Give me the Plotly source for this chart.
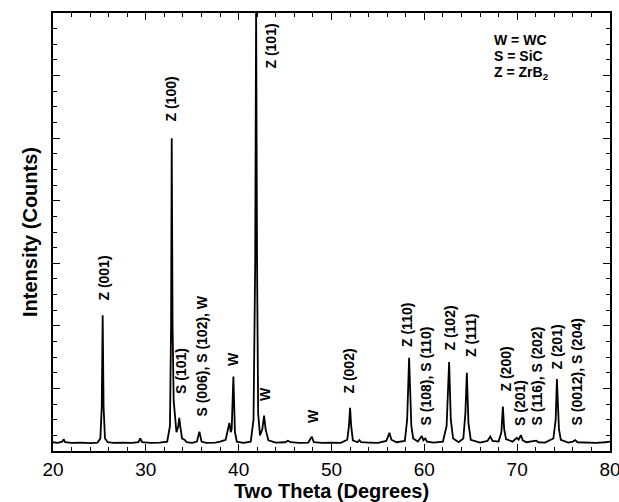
import plotly.graph_objects as go

# ---- data ----
two_theta = [20.0, 20.5, 21.0, 21.15, 21.3, 22.0, 23.0, 24.0, 24.8, 25.1, 25.25, 25.35, 25.45, 25.6, 25.9,
             26.5, 27.5, 28.5, 29.2, 29.4, 29.6, 30.5, 31.5, 32.3, 32.6, 32.72, 32.79, 32.88, 33.0, 33.1,
             33.3, 33.5, 33.6, 33.7, 33.9, 34.2, 34.4, 35.0, 35.5, 35.77, 36.0, 36.5, 37.5, 38.0, 38.3,
             38.6, 38.85, 39.0, 39.15, 39.25, 39.43, 39.6, 39.8, 40.5, 41.3, 41.6, 41.78, 41.88, 41.98, 42.1,
             42.3, 42.55, 42.74, 42.9, 43.2, 44.0, 45.0, 45.3, 45.6, 46.5, 47.5, 47.87, 48.1, 49.0, 50.0,
             51.0, 51.7, 51.88, 52.0, 52.12, 52.3, 52.8, 53.0, 53.2, 54.0, 55.0, 55.9, 56.24, 56.45, 57.0,
             57.9, 58.15, 58.36, 58.5, 58.6, 58.8, 59.3, 59.73, 59.9, 60.1, 60.3, 61.0, 62.0, 62.4, 62.67,
             62.85, 63.1, 63.7, 64.2, 64.42, 64.58, 64.75, 65.0, 66.0, 66.8, 67.1, 67.35, 68.0, 68.3, 68.46,
             68.6, 68.8, 69.5, 69.97, 70.15, 70.4, 70.6, 71.0, 71.8, 72.05, 72.3, 73.0, 73.9, 74.15, 74.28,
             74.4, 74.5, 74.7, 75.5, 76.0, 76.25, 76.5, 77.5, 78.5, 79.5, 80.0]
intensity = [140, 130, 150, 190, 140, 130, 135, 125, 135, 200, 700, 2170, 700, 200, 140,
             130, 135, 130, 140, 200, 140, 130, 135, 150, 400, 2000, 5000, 2000, 800, 600,
             300, 400, 530, 400, 200, 175, 140, 130, 150, 310, 150, 130, 135, 150, 170,
             180, 350, 450, 300, 350, 1190, 300, 150, 130, 150, 500, 3000, 7100, 3000, 600,
             250, 350, 565, 350, 170, 135, 140, 165, 140, 130, 135, 230, 140, 130, 135,
             130, 180, 400, 690, 400, 170, 140, 175, 140, 135, 130, 160, 290, 180, 140,
             160, 500, 1490, 700, 400, 200, 150, 240, 170, 200, 150, 135, 150, 400, 1420,
             500, 200, 140, 200, 600, 1250, 450, 180, 135, 160, 230, 160, 150, 300, 710,
             350, 190, 150, 210, 180, 255, 170, 140, 150, 165, 140, 135, 200, 500, 1150,
             600, 350, 180, 135, 150, 175, 140, 135, 130, 140, 150]

peak_labels = ["Z (001)", "Z (100)", "Z (101)", "S (101)", "S (006), S (102), W", "W", "W", "W",
               "Z (002)", "Z (110)", "S (108), S (110)", "Z (102)", "Z (111)", "Z (200)", "S (201)",
               "S (116), S (202)", "Z (201)", "S (0012), S (204)"]
label_x = [25.39, 32.71, 43.38, 33.79, 36.05, 39.39, 42.84, 48.0,
           51.78, 58.13, 60.18, 62.66, 65.03, 68.69, 70.31,
           72.14, 74.29, 76.45]
label_y = [2381, 5258, 6089, 895, 527, 1342, 783, 431,
           895, 1646, 384, 1582, 1486, 927, 384,
           384, 1294, 384]

key_lines = ["W = WC", "S = SiC", "Z = ZrB<sub>2</sub>"]
key_y = [6569, 6305, 6041]

x_title = "Two Theta (Degrees)"
y_title = "Intensity (Counts)"

FONT = "Liberation Sans, Arial, Helvetica, sans-serif"

fig = go.Figure()
fig.add_trace(go.Scatter(x=two_theta, y=intensity, mode="lines",
                         line=dict(color="black", width=1.8), showlegend=False))

for txt, xv, yv in zip(peak_labels, label_x, label_y):
    fig.add_annotation(x=xv, y=yv, text=txt, textangle=-90, showarrow=False,
                       xanchor="center", yanchor="bottom",
                       font=dict(family=FONT, size=14, color="black", weight="bold"),
                       borderpad=0)

for txt, yv in zip(key_lines, key_y):
    fig.add_annotation(x=67.4, y=yv, text=txt, showarrow=False, xanchor="left", yanchor="middle",
                       font=dict(family=FONT, size=14, color="black", weight="bold"), borderpad=0)

axis_common = dict(showline=True, linecolor="black", linewidth=1.5, mirror="allticks",
                   ticks="inside", tickcolor="black", tickwidth=1.3, showgrid=False, zeroline=False)

fig.update_xaxes(range=[20, 80], dtick=10, tick0=20, ticklen=7, ticklabeloverflow="allow",
                 tickfont=dict(family=FONT, size=19, color="black"),
                 title=dict(text=x_title, font=dict(family=FONT, size=20, color="black", weight="bold"),
                            standoff=6),
                 minor=dict(dtick=2, ticks="inside", ticklen=4, tickcolor="black", tickwidth=1.2),
                 **axis_common)
fig.update_yaxes(range=[0, 7000], dtick=1000, tick0=0, ticklen=7, showticklabels=False,
                 title=dict(text=y_title, font=dict(family=FONT, size=20, color="black", weight="bold"),
                            standoff=8),
                 minor=dict(dtick=250, ticks="inside", ticklen=4, tickcolor="black", tickwidth=1.2),
                 **axis_common)

fig.update_layout(width=619, height=502, margin=dict(l=53, r=9, t=13, b=51, autoexpand=False),
                  paper_bgcolor="white", plot_bgcolor="white")

fig.write_html("out.html", config={"displayModeBar": False},
               post_script="document.body.style.margin='0px';")
